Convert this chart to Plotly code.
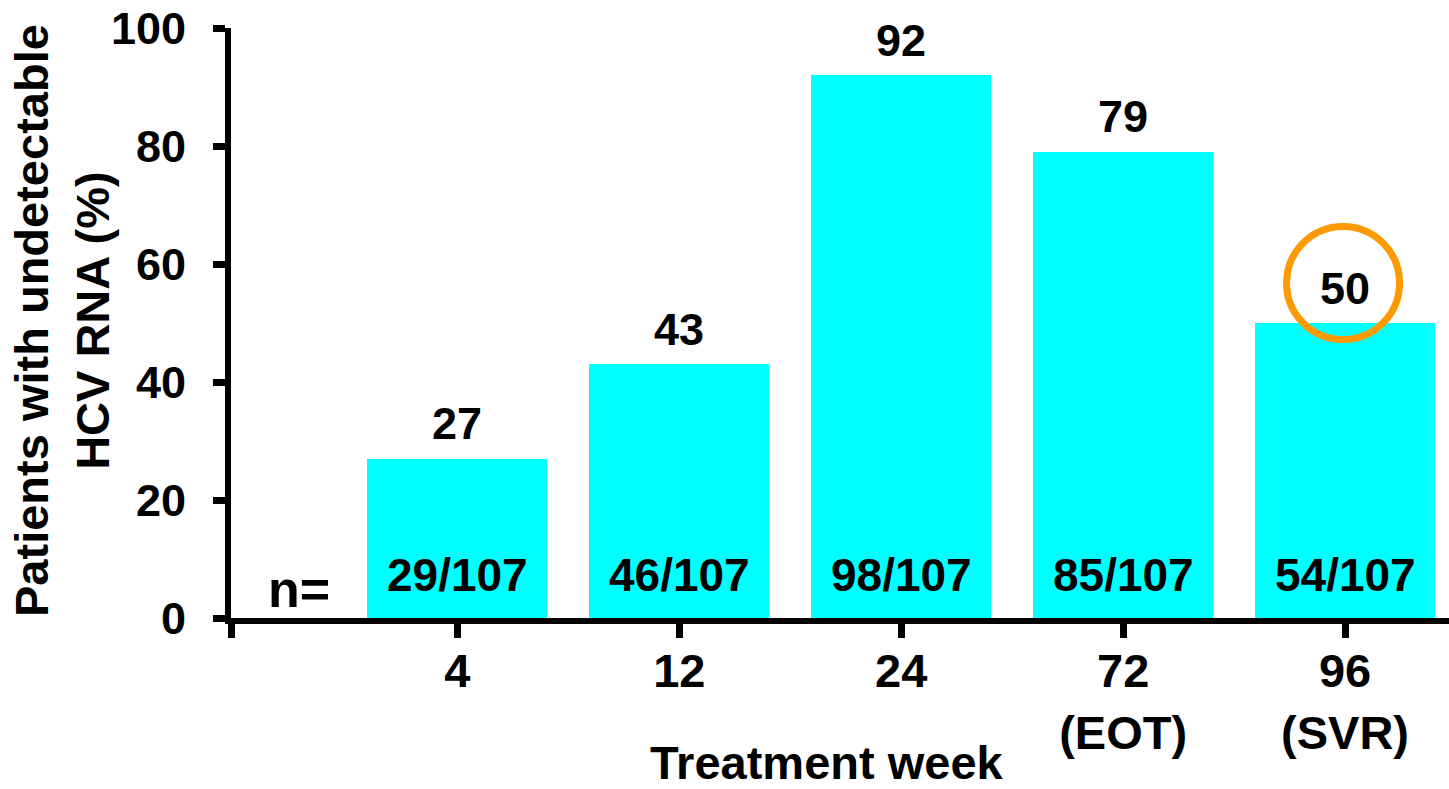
import plotly.graph_objects as go

# ---- data ----
weeks = ["4", "12", "24", "72<br>(EOT)", "96<br>(SVR)"]
pct_undetectable = [27, 43, 92, 79, 50]
responders = [29, 46, 98, 85, 54]
n_total = 107
y_ticks = [0, 20, 40, 60, 80, 100]

FONT = "Liberation Sans, Arial, sans-serif"
CYAN = "#00FFFF"
ORANGE = "#FF9900"

xpos = [i + 1 for i in range(len(weeks))]
x_start, x_end = -0.0203, 5.4685

fig = go.Figure()
fig.add_trace(go.Bar(
    x=xpos, y=pct_undetectable, width=0.811,
    marker=dict(color=CYAN, line=dict(width=0)),
    hoverinfo="skip", showlegend=False,
))

annotations = []
for xp, v in zip(xpos, pct_undetectable):
    annotations.append(dict(
        x=xp, y=v, xref="x", yref="y", text=str(v), showarrow=False,
        yanchor="middle", yshift=35,
        font=dict(family=FONT, size=45, color="black", weight="bold"),
    ))
for xp, r in zip(xpos, responders):
    annotations.append(dict(
        x=xp, y=0, xref="x", yref="y", text=f"{r}/{n_total}", showarrow=False,
        yanchor="middle", yshift=43,
        font=dict(family=FONT, size=46, color="black", weight="bold"),
    ))
annotations.append(dict(
    x=0.284, y=0, xref="x", yref="y", text="n=", showarrow=False,
    yanchor="middle", yshift=29,
    font=dict(family=FONT, size=52, color="black", weight="bold"),
))
annotations.append(dict(
    x=(827 - 231) / 1218, y=0, xref="paper", yref="paper", text="Treatment week",
    showarrow=False, xanchor="center", yanchor="middle", yshift=-144,
    font=dict(family=FONT, size=47, color="black", weight="bold"),
))
annotations.append(dict(
    x=0, y=0.5, xref="paper", yref="paper",
    text="Patients with undetectable<br>HCV RNA (%)",
    showarrow=False, textangle=-90, xanchor="center", yanchor="middle",
    xshift=-(231 - 62), yshift=2,
    font=dict(family=FONT, size=47, color="black", weight="bold"),
))

fig.add_shape(
    type="circle", xref="x", yref="y",
    xsizemode="pixel", ysizemode="pixel",
    xanchor=xpos[4], yanchor=pct_undetectable[4],
    x0=-58.5, x1=54.5, y0=40 - 56.5, y1=40 + 56.5,
    line=dict(color=ORANGE, width=7), layer="above",
)

fig.update_layout(
    width=1449, height=789,
    margin=dict(l=231, r=0, t=28, b=171),
    paper_bgcolor="white", plot_bgcolor="white",
    font=dict(family=FONT, color="black", weight="bold"),
    annotations=annotations,
    bargap=0,
)
fig.update_xaxes(
    range=[x_start, x_end],
    tickvals=[x_start] + xpos, ticktext=[""] + weeks,
    showline=True, linecolor="black", linewidth=6,
    ticks="outside", ticklen=14, tickwidth=7, tickcolor="black",
    tickfont=dict(family=FONT, size=47, color="black", weight="bold"),
    ticklabelstandoff=-7,
    showgrid=False, zeroline=False, fixedrange=True,
)
fig.update_yaxes(
    range=[0, 100], tickvals=y_ticks,
    showline=True, linecolor="black", linewidth=6,
    ticks="outside", ticklen=12, tickwidth=7, tickcolor="black",
    tickfont=dict(family=FONT, size=45, color="black", weight="bold"),
    ticklabelstandoff=18,
    showgrid=False, zeroline=False, fixedrange=True,
)

fig.write_html("out.html")
